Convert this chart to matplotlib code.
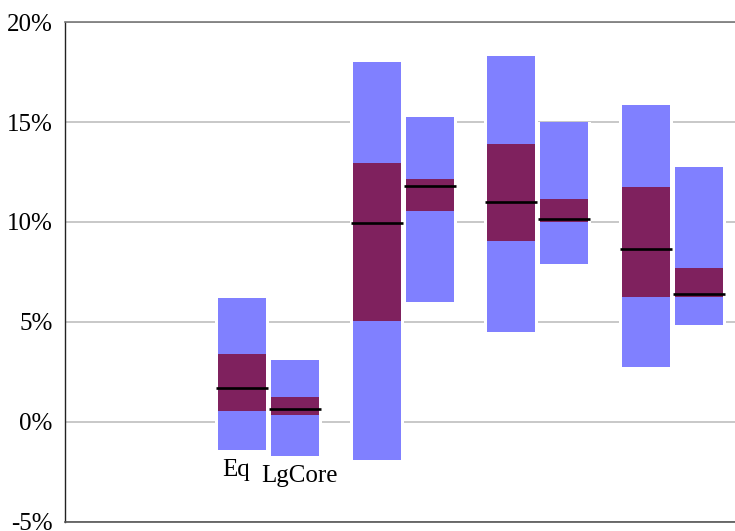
import matplotlib
matplotlib.use("Agg")
import matplotlib.pyplot as plt
from matplotlib.ticker import FuncFormatter

# Return distributions per group (percent): whisker range, interquartile range, median
series = ["Eq", "LgCore"]
group_pos = [1, 2, 3, 4]

eq_low = [-1.38, -1.9, 4.5, 2.75]
eq_q1 = [0.55, 5.05, 9.05, 6.25]
eq_med = [1.68, 9.95, 11.0, 8.67]
eq_q3 = [3.4, 12.95, 13.9, 11.75]
eq_high = [6.2, 18.0, 18.3, 15.85]

lg_low = [-1.68, 6.0, 7.9, 4.85]
lg_q1 = [0.35, 10.55, 10.0, 6.25]
lg_med = [0.63, 11.8, 10.15, 6.42]
lg_q3 = [1.25, 12.15, 11.15, 7.7]
lg_high = [3.1, 15.25, 15.0, 12.75]

y_ticks = [-5, 0, 5, 10, 15, 20]

plt.rcParams["font.family"] = ["Liberation Serif", "DejaVu Serif"]

W, H = 735, 531
fig = plt.figure(figsize=(W / 100, H / 100), dpi=100)
px_per_unit = 134.4
ax = fig.add_axes([65 / W, 9 / H, 5 * px_per_unit / W, 500 / H])
ax.set_xlim(-0.517, 4.483)
ax.set_ylim(-5, 20)

light = "#8080ff"
dark = "#7f215e"
offset = 26.5 / px_per_unit
bar_w = 48 / px_per_unit
pad_w = 54 / px_per_unit
med_half = 26 / px_per_unit

data = [
    (eq_low, eq_q1, eq_med, eq_q3, eq_high),
    (lg_low, lg_q1, lg_med, lg_q3, lg_high),
]

bottoms = {}
for k, (lo, q1, med, q3, hi) in enumerate(data):
    sign = -1 if k == 0 else 1
    for i, g in enumerate(group_pos):
        x = g + sign * offset
        ax.bar(x, hi[i] - lo[i], bottom=lo[i], width=pad_w, color="white",
               zorder=2)
        ax.bar(x, hi[i] - lo[i], bottom=lo[i], width=bar_w, color=light,
               zorder=3)
        ax.bar(x, q3[i] - q1[i], bottom=q1[i], width=bar_w, color=dark,
               zorder=4)
        ax.hlines(med[i], x - med_half, x + med_half, color="black",
                  linewidth=1.9, zorder=5)
    bottoms[k] = (group_pos[0] + sign * offset, lo[0])

# Series names under the first pair
label_dx = [-4.3, 3.3]
for k, name in enumerate(series):
    x, y = bottoms[k]
    ax.annotate(name, xy=(x, y), xytext=(label_dx[k], -18.8),
                textcoords="offset points", ha="center", va="baseline",
                fontsize=18, color="black", zorder=6)

ax.set_yticks(y_ticks)
ax.yaxis.set_major_formatter(FuncFormatter(lambda v, p: f"{v:.0f}%"))
ax.set_xticks([])
ax.tick_params(axis="y", length=0, pad=9, labelsize=18)
ax.grid(axis="y", color="#c8c8c8", linewidth=1.4, zorder=0)
ax.set_axisbelow(True)

ax.spines["right"].set_visible(False)
ax.spines["top"].set_color("#777777")
ax.spines["top"].set_linewidth(1.2)
ax.spines["left"].set_color("#222222")
ax.spines["left"].set_linewidth(1.0)
ax.spines["bottom"].set_color("#555555")
ax.spines["bottom"].set_linewidth(1.2)

fig.savefig("out.png", dpi=100)
